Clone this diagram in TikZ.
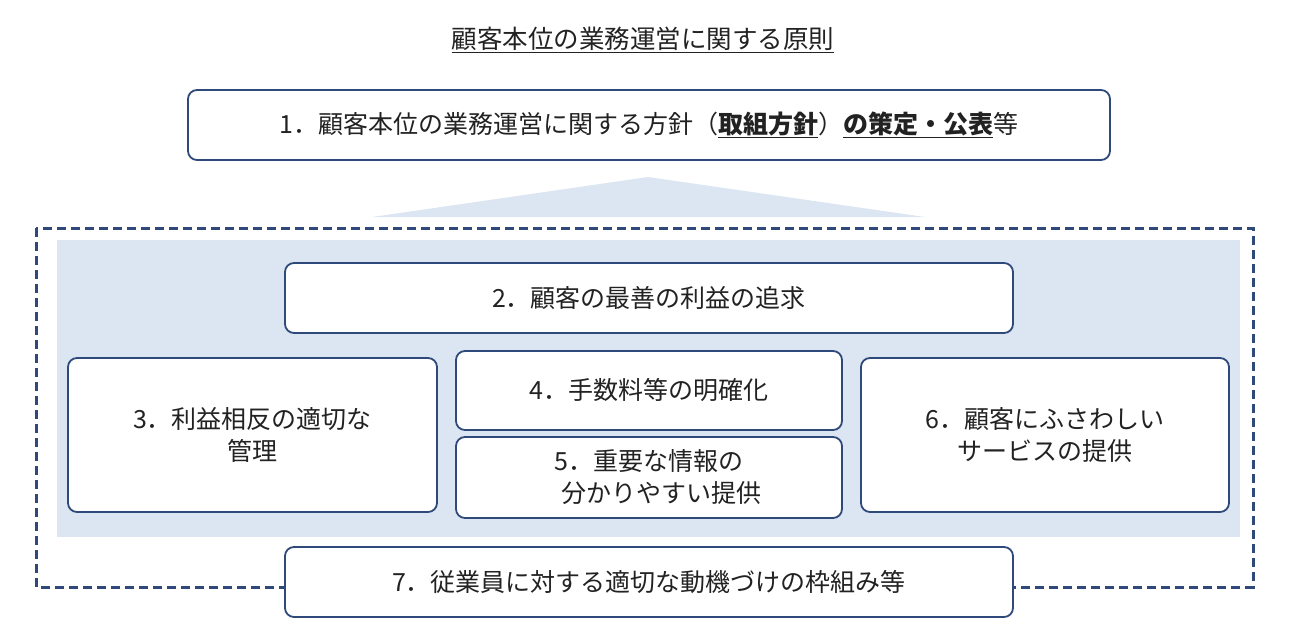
\documentclass[tikz,border=0pt]{standalone}
\usepackage{fontspec}
\setmainfont{Noto Sans CJK JP}
\definecolor{bd}{HTML}{2F4A7A}
\definecolor{lb}{HTML}{DCE6F2}
\definecolor{tx}{HTML}{222222}
\begin{document}
\begin{tikzpicture}[x=1pt,y=-1pt,
  bx/.style={draw=bd,line width=1.8pt,rounded corners=9pt,fill=white,text=tx,font=\fontsize{25}{32}\selectfont,align=center}]
\useasboundingbox (0,0) rectangle (1291,643);
\node[text=tx,font=\fontsize{25.5}{30}\selectfont] (title) at (643,40) {\underline{顧客本位の業務運営に関する原則}};
\node[bx,minimum width=922pt,minimum height=70pt] (b1) at (649,125) {1．顧客本位の業務運営に関する方針（\textbf{\underline{取組方針}}）\textbf{\underline{の策定・公表}}等};
\fill[lb] (648,177) -- (925,217) -- (372,217) -- cycle;
\draw[bd,line width=3pt,dash pattern=on 9pt off 5pt] (36,228) rectangle (1253,587);
\fill[lb] (57,240) rectangle (1240,537);
\node[bx,minimum width=728pt,minimum height=70pt] (b2) at (649,298) {2．顧客の最善の利益の追求};
\node[bx,minimum width=369pt,minimum height=154pt] (b3) at (252.5,435) {3．利益相反の適切な\\管理};
\node[bx,minimum width=386pt,minimum height=79pt] (b4) at (649,390.5) {4．手数料等の明確化};
\node[bx,minimum width=386pt,minimum height=81pt] (b5) at (649,477.5) {5．重要な情報の\\　分かりやすい提供};
\node[bx,minimum width=368pt,minimum height=154pt] (b6) at (1045,435) {6．顧客にふさわしい\\サービスの提供};
\node[bx,minimum width=728pt,minimum height=70pt] (b7) at (649,582) {7．従業員に対する適切な動機づけの枠組み等};
\end{tikzpicture}
\end{document}
